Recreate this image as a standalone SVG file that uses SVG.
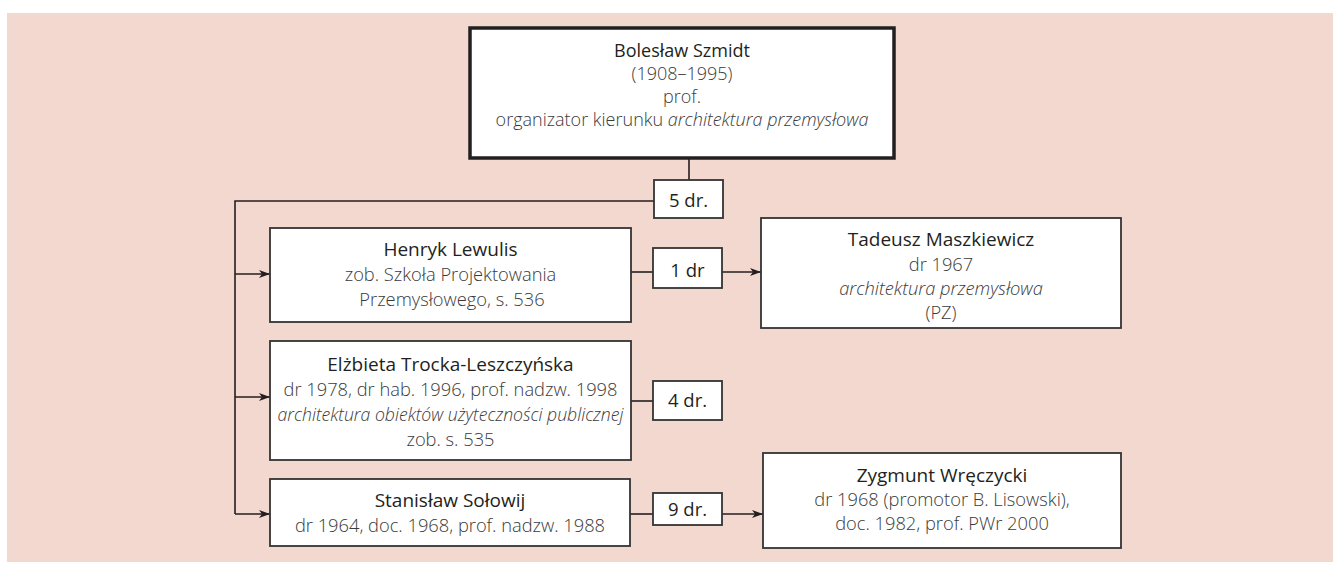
<svg xmlns="http://www.w3.org/2000/svg" width="1333" height="562" viewBox="0 0 1333 562">
  <style>
    .bg { fill: #f2d8cf; }
    .box { fill: #ffffff; stroke: #333333; stroke-width: 1.8; }
    .main { fill: #ffffff; stroke: #231f20; stroke-width: 3.5; }
    .wire { fill: none; stroke: #231f20; stroke-width: 1.6; }
    text { font-family: "Open Sans", "Liberation Sans", sans-serif; font-size: 18.3px; text-anchor: middle; fill: #3a3a3a; font-weight: 300; }
    .name { fill: #231f20; font-weight: 400; font-size: 19px; }
    .it { font-style: italic; }
    .cnt { fill: #231f20; font-weight: 400; font-size: 18.5px; }
    #szmidt text { font-size: 18px; }
  </style>
  <defs>
    <marker id="arrow" markerWidth="12" markerHeight="10" refX="11" refY="5" orient="auto" markerUnits="userSpaceOnUse">
      <path d="M0,1 L11,5 L0,9 L3,5 Z" fill="#231f20"/>
    </marker>
  </defs>

  <rect class="bg" x="7" y="13" width="1326" height="549"/>

  <!-- connectors -->
  <g id="connectors">
    <line class="wire" x1="689" y1="158" x2="689" y2="180"/>
    <polyline class="wire" points="654,201 235,201 235,514"/>
    <line class="wire" x1="235" y1="274" x2="270" y2="274" marker-end="url(#arrow)"/>
    <line class="wire" x1="235" y1="397" x2="270" y2="397" marker-end="url(#arrow)"/>
    <line class="wire" x1="235" y1="514" x2="270" y2="514" marker-end="url(#arrow)"/>
    <line class="wire" x1="631" y1="272" x2="653" y2="272"/>
    <line class="wire" x1="722" y1="272" x2="761" y2="272" marker-end="url(#arrow)"/>
    <line class="wire" x1="631" y1="401" x2="653" y2="401"/>
    <line class="wire" x1="630" y1="514" x2="653" y2="514"/>
    <line class="wire" x1="722" y1="514" x2="763" y2="514" marker-end="url(#arrow)"/>
  </g>

  <!-- supervisor -->
  <g id="szmidt">
    <rect class="main" x="470" y="28" width="424" height="130"/>
    <text class="name" x="682" y="57">Bolesław Szmidt</text>
    <text x="682" y="80">(1908–1995)</text>
    <text x="682" y="103">prof.</text>
    <text x="682" y="126">organizator kierunku <tspan class="it">architektura przemysłowa</tspan></text>
  </g>

  <g id="count-5">
    <rect class="box" x="654" y="180" width="69" height="38"/>
    <text class="cnt" x="688.5" y="207">5 dr.</text>
  </g>

  <g id="lewulis">
    <rect class="box" x="270" y="228" width="361" height="94"/>
    <text class="name" x="450.5" y="256">Henryk Lewulis</text>
    <text x="450.5" y="281">zob. Szkoła Projektowania</text>
    <text x="452" y="306">Przemysłowego, s. 536</text>
  </g>

  <g id="count-1">
    <rect class="box" x="653" y="248" width="69" height="40"/>
    <text class="cnt" x="687.5" y="277">1 dr</text>
  </g>

  <g id="maszkiewicz">
    <rect class="box" x="761" y="218" width="360" height="110"/>
    <text class="name" x="941" y="246">Tadeusz Maszkiewicz</text>
    <text x="941" y="271">dr 1967</text>
    <text class="it" x="941" y="295">architektura przemysłowa</text>
    <text x="941" y="319">(PZ)</text>
  </g>

  <g id="trocka">
    <rect class="box" x="270" y="341" width="361" height="119"/>
    <text class="name" x="450.5" y="371">Elżbieta Trocka-Leszczyńska</text>
    <text x="450.5" y="396">dr 1978, dr hab. 1996, prof. nadzw. 1998</text>
    <text class="it" x="450.5" y="421" textLength="346" lengthAdjust="spacingAndGlyphs">architektura obiektów użyteczności publicznej</text>
    <text x="450.5" y="446">zob. s. 535</text>
  </g>

  <g id="count-4">
    <rect class="box" x="653" y="381" width="69" height="39"/>
    <text class="cnt" x="687.5" y="407">4 dr.</text>
  </g>

  <g id="solowij">
    <rect class="box" x="270" y="479" width="360" height="67"/>
    <text class="name" x="450" y="507">Stanisław Sołowij</text>
    <text x="450" y="532">dr 1964, doc. 1968, prof. nadzw. 1988</text>
  </g>

  <g id="count-9">
    <rect class="box" x="653" y="493" width="69" height="32"/>
    <text class="cnt" x="687.5" y="516">9 dr.</text>
  </g>

  <g id="wreczycki">
    <rect class="box" x="763" y="453" width="358" height="95"/>
    <text class="name" x="942" y="482">Zygmunt Wręczycki</text>
    <text x="942" y="506">dr 1968 (promotor B. Lisowski),</text>
    <text x="942" y="530">doc. 1982, prof. PWr 2000</text>
  </g>
</svg>
